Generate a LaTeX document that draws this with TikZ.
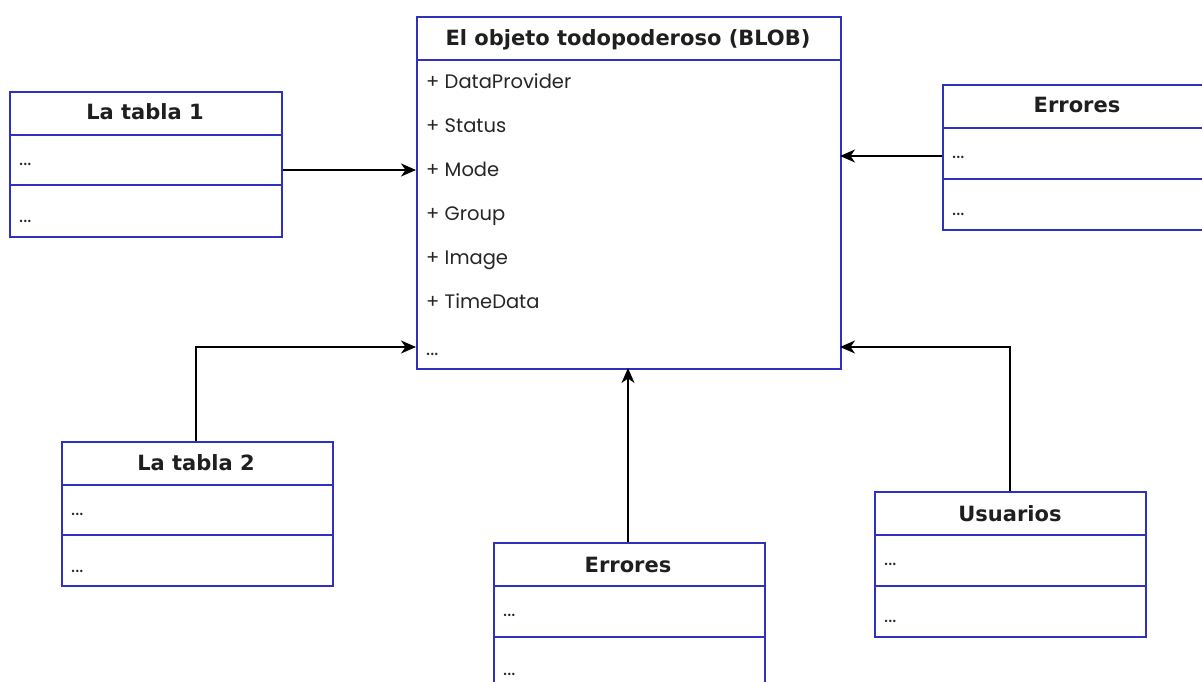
\documentclass[tikz,border=0pt]{standalone}
\usepackage{fontspec}
\setmainfont{Poppins}
\newfontfamily\titlefont{DejaVu Sans}
\usetikzlibrary{arrows.meta}
\definecolor{uml}{RGB}{48,48,190}
\begin{document}
\begin{tikzpicture}[x=1pt,y=-1pt,
  box/.style={draw=uml, line width=1.7pt, anchor=north west, inner sep=0pt, fill=white},
  sep/.style={draw=uml, line width=1.7pt},
  title/.style={font=\titlefont\bfseries\fontsize{21}{24}\selectfont, anchor=base, inner sep=0pt, text=black!88},
  item/.style={font=\fontsize{19.5}{22}\selectfont, anchor=base west, inner sep=0pt, text=black!85},
  conn/.style={draw=black, line width=1.5pt, -{Stealth[length=15pt,width=13pt,inset=4.5pt]}}]
\useasboundingbox (0,0) rectangle (1202,682);
\fill[white] (0,0) rectangle (1202,682);

% BLOB
\node[box, minimum width=424pt, minimum height=352pt] (blob) at (416,16) {};
\draw[sep] (blob.west |- 0,60) -- (blob.east |- 0,60);
\node[title] (blobt) at (628,46) {El objeto todopoderoso (BLOB)};
\node[item] (b1) at (426,88.5) {+ DataProvider};
\node[item] (b2) at (426,132.5) {+ Status};
\node[item] (b3) at (426,176.5) {+ Mode};
\node[item] (b4) at (426,220.5) {+ Group};
\node[item] (b5) at (426,264.5) {+ Image};
\node[item] (b6) at (426,308.5) {+ TimeData};
\node[item] (b7) at (426,355) {...};
\coordinate (inL1) at (416,170);
\coordinate (inL2) at (416,347);
\coordinate (inR1) at (840,156);
\coordinate (inR2) at (840,347);
\coordinate (inB) at (628,368);

% La tabla 1
\node[box, minimum width=272pt, minimum height=145pt] (t1) at (9,91) {};
\draw[sep] (t1.west |- 0,135) -- (t1.east |- 0,135);
\draw[sep] (t1.west |- 0,185) -- (t1.east |- 0,185);
\node[title] (t1t) at (145,120) {La tabla 1};
\node[item] (t1a) at (19,165) {...};
\node[item] (t1b) at (19,222) {...};

% La tabla 2
\node[box, minimum width=271pt, minimum height=144pt] (t2) at (61,441) {};
\draw[sep] (t2.west |- 0,485) -- (t2.east |- 0,485);
\draw[sep] (t2.west |- 0,535) -- (t2.east |- 0,535);
\node[title] (t2t) at (196,470) {La tabla 2};
\node[item] (t2a) at (71,515) {...};
\node[item] (t2b) at (71,572) {...};

% Errores (bottom)
\node[box, minimum width=271pt, minimum height=146pt] (e1) at (493,542) {};
\draw[sep] (e1.west |- 0,586) -- (e1.east |- 0,586);
\draw[sep] (e1.west |- 0,637) -- (e1.east |- 0,637);
\node[title] (e1t) at (628,572) {Errores};
\node[item] (e1a) at (503,616) {...};
\node[item] (e1b) at (503,675) {...};

% Usuarios
\node[box, minimum width=271pt, minimum height=145pt] (us) at (874,491) {};
\draw[sep] (us.west |- 0,535) -- (us.east |- 0,535);
\draw[sep] (us.west |- 0,586) -- (us.east |- 0,586);
\node[title] (ust) at (1010,521) {Usuarios};
\node[item] (usa) at (884,565) {...};
\node[item] (usb) at (884,622) {...};

% Errores (right)
\node[box, minimum width=272pt, minimum height=145pt] (e2) at (942,84) {};
\draw[sep] (e2.west |- 0,128) -- (e2.east |- 0,128);
\draw[sep] (e2.west |- 0,179) -- (e2.east |- 0,179);
\node[title] (e2t) at (1077,113) {Errores};
\node[item] (e2a) at (952,158) {...};
\node[item] (e2b) at (952,215) {...};

% connectors
\draw[conn] (t1.east |- inL1) -- (inL1);
\draw[conn] (t2.north -| 196,0) |- (inL2);
\draw[conn] (e1.north -| inB) -- (inB);
\draw[conn] (us.north -| 1010,0) |- (inR2);
\draw[conn] (e2.west |- inR1) -- (inR1);
\end{tikzpicture}
\end{document}
